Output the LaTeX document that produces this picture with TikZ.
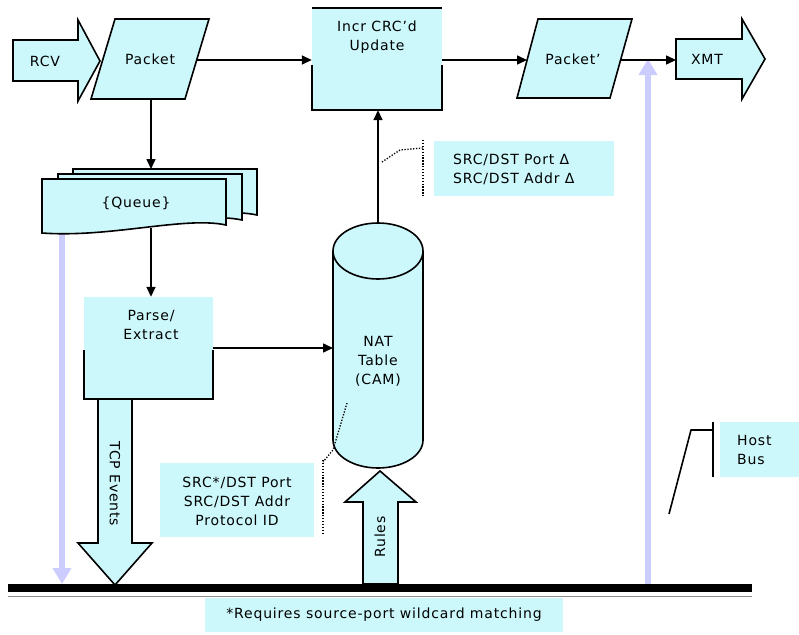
\documentclass[tikz,border=0pt]{standalone}
\usepackage{fontspec}
\setmainfont{DejaVu Sans}[LetterSpace=6]
\usetikzlibrary{arrows.meta,calc}

\definecolor{boxfill}{RGB}{204,248,252}
\definecolor{buslav}{RGB}{204,204,255}

\begin{document}
\begin{tikzpicture}[x=1pt,y=-1pt,
  every node/.style={inner sep=0pt, font=\fontsize{14}{19}\selectfont},
  flow/.style={line width=1.6pt, -{Triangle[length=10pt,width=9pt]}},
  edgeline/.style={line width=1.6pt},
  outline/.style={draw=black, line width=1.6pt, fill=boxfill},
  hostline/.style={draw=buslav, line width=6pt, -{Triangle[length=16pt,width=18pt]}},
  tag/.style={fill=boxfill, inner sep=0pt},
  leader/.style={line width=1.3pt, dash pattern=on 1.3pt off 1.6pt},
]
\useasboundingbox (0,0) rectangle (799,634);
\fill[white] (0,0) rectangle (799,634);

% ---- receive side ----
\draw[outline] (13,40) -- (78,40) -- (78,20) -- (100,61) -- (78,101) -- (78,81) -- (13,81) -- cycle;
\node (rcv) at (45,61) {RCV};

\draw[outline] (115,19) -- (209,19) -- (185,99) -- (91,99) -- cycle;
\node (pkt) at (150,59) {Packet};
\coordinate (pkt-out) at (197,60);
\coordinate (pkt-down) at (151,99);

% ---- CRC update box ----
\node[minimum width=130pt, minimum height=102pt, fill=boxfill] (incr) at (377,59) {};
\draw[edgeline] (incr.north west) -- (incr.north east);
\draw[edgeline] ($(incr.west)+(0,6)$) |- (incr.south east) -- ($(incr.east)+(0,6)$);
\node[align=center] (incrtext) at (377,37) {Incr CRC'd\\Update};

% ---- transmit side ----
\draw[outline] (538,19) -- (632,19) -- (610,98) -- (517,98) -- cycle;
\node (pkt2) at (573,59) {Packet'};
\coordinate (pkt2-in) at (527,60);
\coordinate (pkt2-out) at (621,60);

\draw[outline] (676,39) -- (742,39) -- (742,19) -- (765,59) -- (742,99) -- (742,79) -- (676,79) -- cycle;
\node (xmt) at (707,59) {XMT};
\coordinate (xmt-in) at (676,60);

% ---- host bus feeds ----
\coordinate (hb-base) at (648,584);
\coordinate (hb-tip) at (648,59);
\draw[hostline] (hb-base) -- (hb-tip);
\coordinate (q-bus) at (62,232);
\coordinate (q-bus-end) at (62,584);
\draw[hostline] (q-bus) -- (q-bus-end);

% ---- queue (stacked documents) ----
\foreach \dx/\dy in {31/10, 16/5, 0/0} {
  \draw[outline] (42+\dx,179-\dy) -- (226+\dx,179-\dy) -- (226+\dx,225-\dy)
    .. controls (185+\dx,216-\dy) and (110+\dx,238-\dy) .. (42+\dx,233-\dy) -- cycle;
}
\node (queue) at (136,203) {\{Queue\}};
\coordinate (q-top) at (151,169);
\coordinate (q-out) at (151,228);

% ---- parse / extract ----
\node[minimum width=129pt, minimum height=102pt, fill=boxfill] (parse) at (148.5,348) {};
\draw[edgeline] ($(parse.west)+(0,2)$) |- (parse.south east) -- ($(parse.east)+(0,2)$);
\node[align=center] (parsetext) at (151,325) {Parse/\\Extract};

% ---- NAT table cylinder ----
\fill[boxfill] (333,251) -- (333,440) arc[start angle=180, end angle=360, x radius=45pt, y radius=28pt]
  -- (423,251) arc[start angle=0, end angle=180, x radius=45pt, y radius=28pt] -- cycle;
\draw[edgeline] (333,251) -- (333,440) arc[start angle=180, end angle=360, x radius=45pt, y radius=28pt]
  -- (423,251) arc[start angle=0, end angle=180, x radius=45pt, y radius=28pt];
\draw[edgeline] (333,251) arc[start angle=180, end angle=360, x radius=45pt, y radius=28pt];
\node[align=center] (nat) at (378,361) {NAT\\Table\\(CAM)};
\coordinate (nat-w) at (333,348);
\coordinate (nat-top) at (378,223);

% ---- flow connectors ----
\draw[flow] (pkt-out) -- (incr.west |- pkt-out);
\draw[flow] (incr.east |- pkt2-in) -- (pkt2-in);
\draw[flow] (pkt2-out) -- (xmt-in);
\draw[flow] (pkt-down) -- (q-top);
\draw[flow] (q-out) -- (parse.north -| q-out);
\draw[flow] (parse.east) -- (nat-w);
\draw[flow] (nat-top) -- (incr.south -| nat-top);

% ---- big event arrows ----
\draw[outline] (98,399) -- (132,399) -- (132,543) -- (152,543) -- (115,585) -- (78,543) -- (98,543) -- cycle;
\node[rotate=-90] (tcp) at (115,484) {TCP Events};
\draw[outline] (363,584) -- (363,502) -- (345,502) -- (380,471) -- (416,502) -- (398,502) -- (398,584) -- cycle;
\node[rotate=90] (rules) at (380,537) {Rules};

% ---- bus bar ----
\fill[black] (8,584) rectangle (752,592);
\draw[line width=1pt, black!45] (8,596.5) -- (752,596.5);

% ---- callouts ----
\node[tag, minimum width=180pt, minimum height=55pt] (deltabox) at (524,168.5) {};
\node[align=left, anchor=west] (deltatext) at (453,169) {SRC/DST Port Δ\\SRC/DST Addr Δ};
\draw[leader] (382,162) -- (400,150) -- (423,148);
\draw[leader] (423,140) -- (423,197);

\node[tag, minimum width=154pt, minimum height=74pt] (keybox) at (237,500) {};
\node[align=center] (keytext) at (237,501) {SRC*/DST Port\\SRC/DST Addr\\Protocol ID};
\draw[leader] (347,403) -- (333,450) -- (323,462);
\draw[leader] (323,460) -- (323,535);

\node[tag, minimum width=79pt, minimum height=55pt] (hostbox) at (759.5,449.5) {};
\node[align=left, anchor=west] (hosttext) at (737,450) {Host\\Bus};
\draw[line width=1.6pt] (713,422) -- (713,477);
\draw[line width=1.6pt] (713,430) -- (691,430) -- (669,514);

\node[tag, minimum width=358pt, minimum height=34pt] (note) at (384,615) {*Requires source-port wildcard matching};
\end{tikzpicture}
\end{document}
